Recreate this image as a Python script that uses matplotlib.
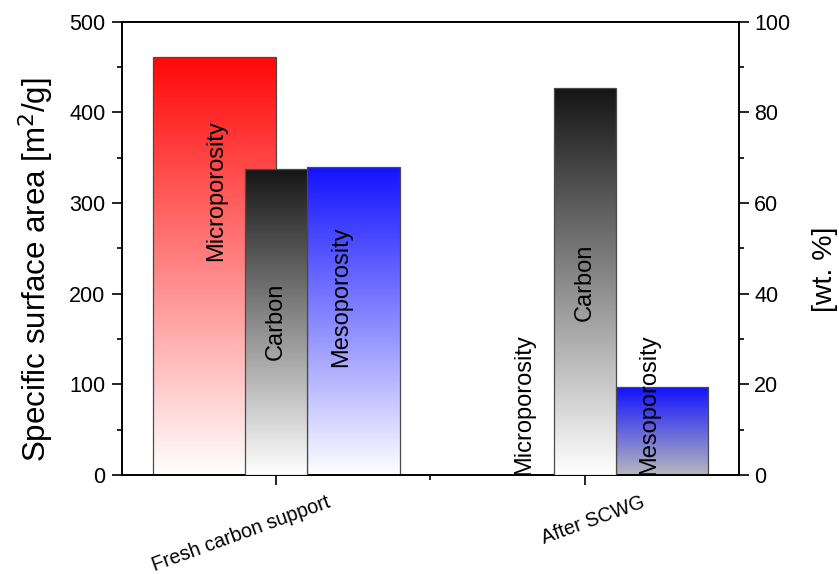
import numpy as np
import matplotlib
matplotlib.use("Agg")
import matplotlib.pyplot as plt
from matplotlib.colors import LinearSegmentedColormap
from matplotlib.ticker import MultipleLocator, FixedLocator
from matplotlib.transforms import ScaledTranslation, blended_transform_factory

plt.rcParams['font.family'] = ['Liberation Sans', 'DejaVu Sans']

# Data
categories = ["Fresh carbon support", "After SCWG"]
micro_area = [461, 0]        # m2/g, microporosity
meso_area = [340, 97]        # m2/g, mesoporosity
carbon_wt = [67.6, 85.3]     # wt. %, carbon content
label_heights_micro = [314, 78]
label_heights_carbon = [170, 212]
label_heights_meso = [197, 77]

x = np.arange(1, len(categories) + 1)

fig = plt.figure(figsize=(8.39, 5.74), dpi=100)
ax = fig.add_axes([0.1454, 0.1725, 0.7354, 0.7897])
ax2 = ax.twinx()


def gradient_bar(axis, xc, width, height, top, bottom, z):
    bars = axis.bar(xc, height, width=width, facecolor='none',
                    edgecolor='#4a4a4a', linewidth=0.9, zorder=z + 1)
    cmap = LinearSegmentedColormap.from_list('g', [bottom, top])
    grad = np.linspace(0, 1, 256).reshape(-1, 1)
    for b in bars:
        x0, w, h = b.get_x(), b.get_width(), b.get_height()
        if h <= 0:
            continue
        im = axis.imshow(grad, cmap=cmap, origin='lower', aspect='auto',
                         extent=(x0, x0 + w, 0, h), zorder=z,
                         interpolation='bilinear')
        im.set_clip_path(b)
    return bars


# Microporosity (left axis)
gradient_bar(ax, x - 0.2, 0.4, micro_area, '#ff0808', '#ffffff', 2)
# Mesoporosity (left axis)
gradient_bar(ax, x[:1] + 0.25, 0.3, meso_area[:1], '#1212ff', '#ffffff', 2)
gradient_bar(ax, x[1:] + 0.25, 0.3, meso_area[1:], '#1212ff', '#b8b8bc', 2)
# Carbon (right axis)
gradient_bar(ax2, x, 0.2, carbon_wt, '#151515', '#ffffff', 4)

ax.set_xlim(0.5, 2.5)
ax.set_ylim(0, 500)
ax2.set_ylim(0, 100)

# Bar labels, drawn on the top axes so they sit above every bar
fs_lab = 17
for i, xc in enumerate(x):
    ax2.text(xc - 0.195, label_heights_micro[i], "Microporosity", rotation=90,
             ha='center', va='center', fontsize=fs_lab, zorder=20,
             transform=ax.transData)
    ax2.text(xc, label_heights_carbon[i], "Carbon", rotation=90,
             ha='center', va='center', fontsize=fs_lab, zorder=20,
             transform=ax.transData)
    ax2.text(xc + 0.21, label_heights_meso[i], "Mesoporosity", rotation=90,
             ha='center', va='center', fontsize=fs_lab, zorder=20,
             transform=ax.transData)

# Category labels, slanted below the axis
ax.set_xticks(x)
ax.set_xticklabels([])
cat_shift = [0.57, 0.625]
for xc, name, dx in zip(x, categories, cat_shift):
    tr = (blended_transform_factory(ax.transData, ax.transAxes) +
          ScaledTranslation(dx, -0.18, fig.dpi_scale_trans))
    ax.text(xc, 0, name, rotation=20, ha='right', va='top', fontsize=14.2,
            transform=tr, clip_on=False)

ax.xaxis.set_minor_locator(FixedLocator([1.5]))
ax.yaxis.set_major_locator(MultipleLocator(100))
ax.yaxis.set_minor_locator(MultipleLocator(50))
ax2.yaxis.set_major_locator(MultipleLocator(20))
ax2.yaxis.set_minor_locator(MultipleLocator(10))

ax.tick_params(axis='y', which='major', direction='out', length=7, width=1.2,
               labelsize=15.5, pad=5)
ax.tick_params(axis='y', which='minor', direction='out', length=3.8, width=1.2)
ax.tick_params(axis='x', which='major', direction='out', length=7, width=1.2)
ax.tick_params(axis='x', which='minor', direction='out', length=3.8, width=1.2)
ax2.tick_params(axis='y', which='major', direction='out', length=7, width=1.2,
                labelsize=15.5, pad=4)
ax2.tick_params(axis='y', which='minor', direction='out', length=3.8, width=1.2)

for a in (ax, ax2):
    for s in a.spines.values():
        s.set_linewidth(1.2)
        s.set_color('black')

ax.set_ylabel("Specific surface area [m$^2$/g]", fontsize=22.5)
ax.yaxis.set_label_coords(-0.107, 0.454)
ax2.set_ylabel("[wt. %]", fontsize=20.5, rotation=90)
ax2.yaxis.set_label_coords(1.119, 0.454)

fig.savefig("out.png", dpi=100)
